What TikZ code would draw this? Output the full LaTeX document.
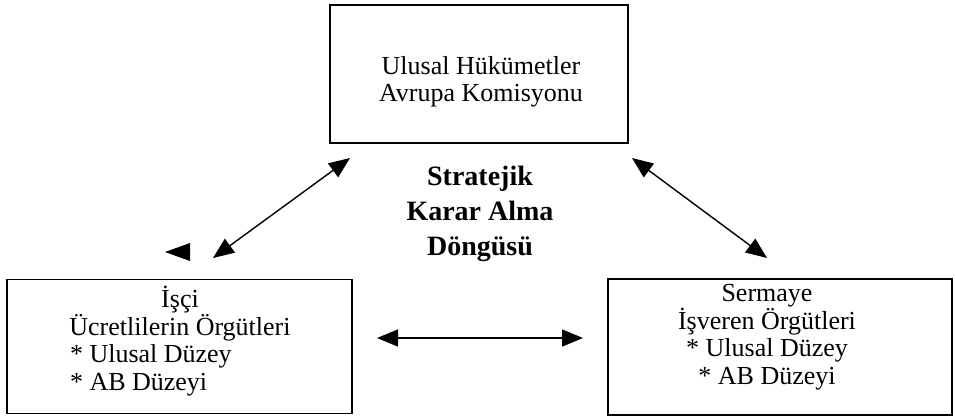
\documentclass[tikz,border=0pt]{standalone}
\usepackage{fontspec}
\setmainfont{Liberation Serif}
\usetikzlibrary{arrows.meta}
\tikzset{
  boxnode/.style={draw, line width=1.6pt, rectangle, inner sep=0pt},
  boxtext/.style={align=center, font=\fontsize{26}{27.5}\selectfont, inner sep=0pt},
  midtext/.style={align=center, font=\fontsize{28}{35}\selectfont\bfseries, inner sep=0pt},
  dblarrow/.style={line width=1.4pt, {Triangle[length=21pt,width=17pt]}-{Triangle[length=21pt,width=17pt]}}
}
\begin{document}
\begin{tikzpicture}[x=1pt,y=-1pt]
\useasboundingbox (0,0) rectangle (955,416);
% boxes
\node[boxnode, minimum width=298pt, minimum height=138pt] (top) at (479,74) {};
\node[boxnode, minimum width=345pt, minimum height=134pt] (left) at (179.5,346.5) {};
\node[boxnode, minimum width=344pt, minimum height=136pt] (right) at (780,347) {};
% texts
\node[boxtext] (toptext) at (481,82) {Ulusal Hükümetler\\Avrupa Komisyonu};
\node[boxtext] (lefttext) at (180,341) {İşçi\\Ücretlilerin Örgütleri\\\makebox[220pt][l]{* Ulusal Düzey}\\\makebox[220pt][l]{* AB Düzeyi}};
\node[boxtext] (righttext) at (767,337) {Sermaye\\İşveren Örgütleri\\* Ulusal Düzey\\* AB Düzeyi};
\node[midtext] (cycle) at (480,214) {Stratejik\\Karar Alma\\Döngüsü};
% arrow end points
\coordinate (la) at (350,158);
\coordinate (lb) at (213,258);
\coordinate (ra) at (632,158);
\coordinate (rb) at (767,258);
\coordinate (ha) at (377,338);
\coordinate (hb) at (583,338);
\draw[dblarrow] (la) -- (lb);
\draw[dblarrow] (ra) -- (rb);
\draw[dblarrow] (ha) -- (hb);
% stray arrowhead
\fill (165,252) -- (190,243) -- (190,261) -- cycle;
\end{tikzpicture}
\end{document}
